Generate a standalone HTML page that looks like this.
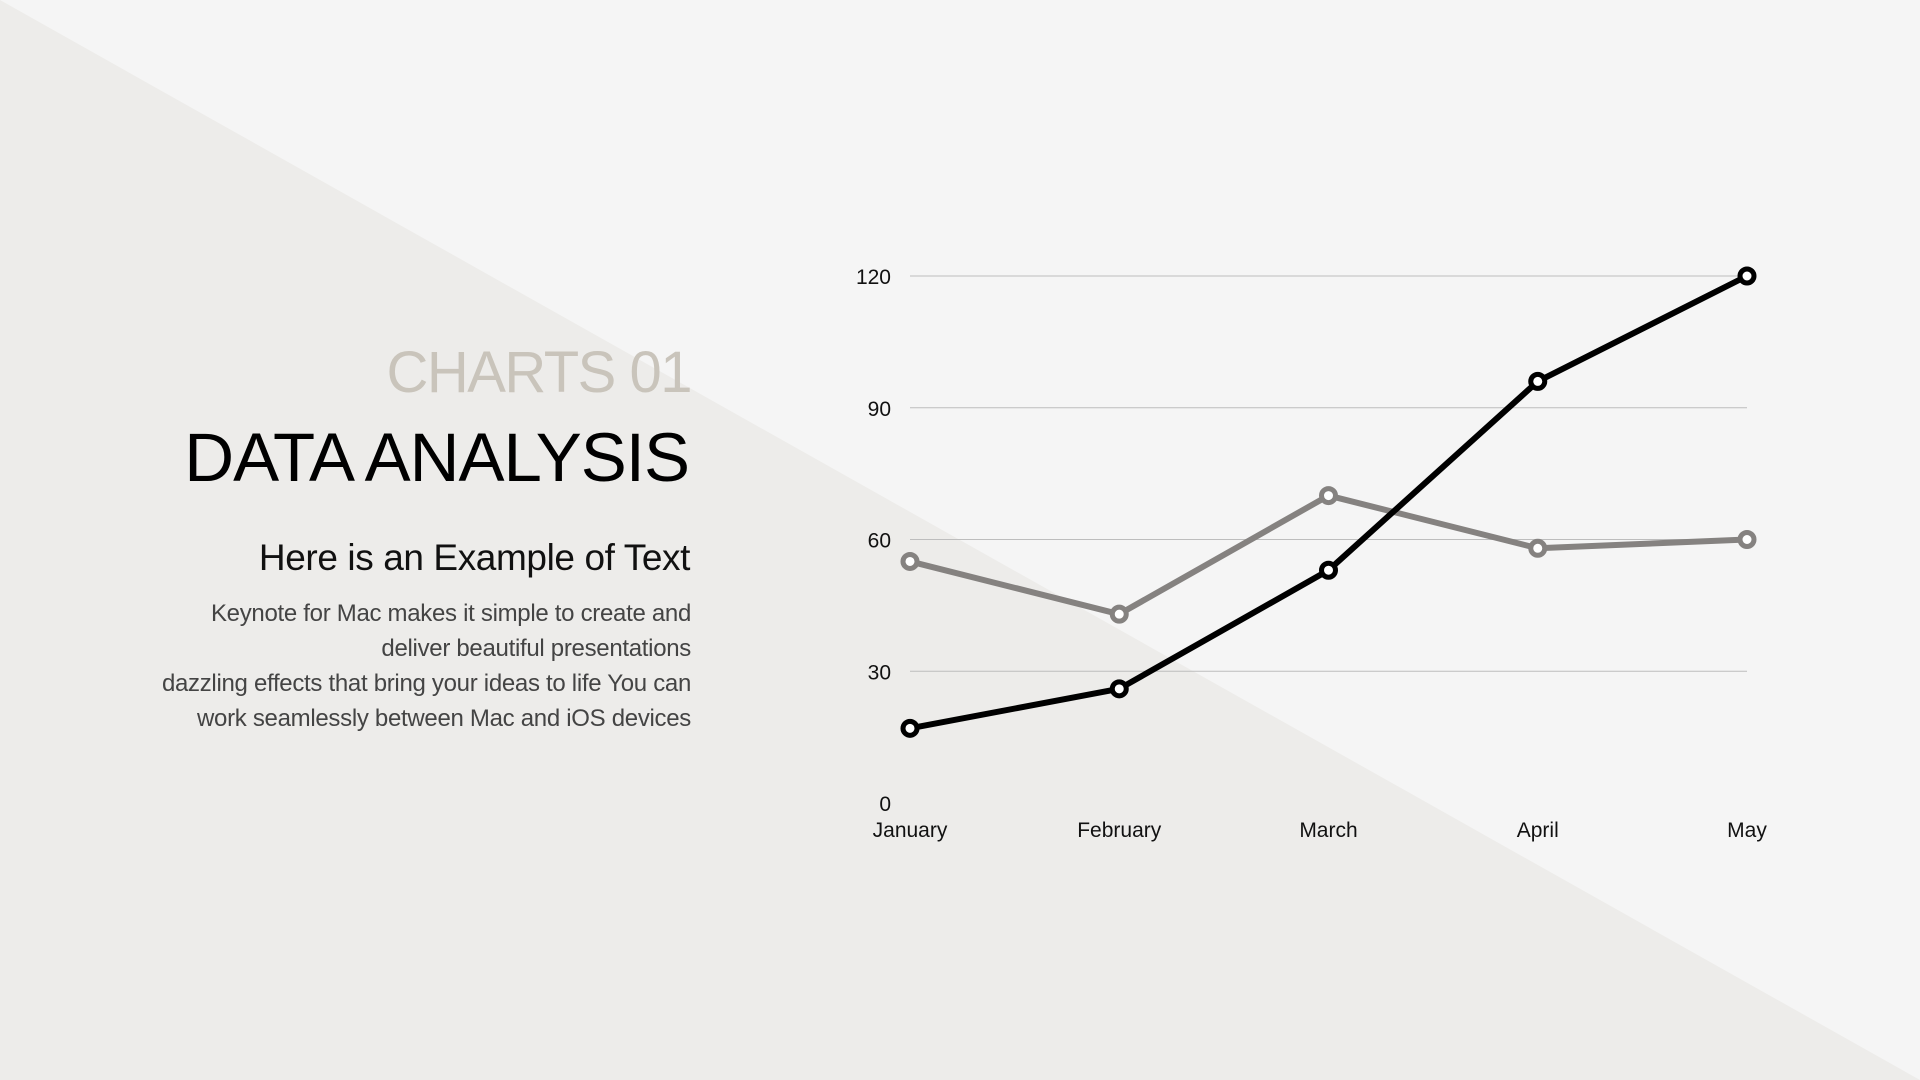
<!DOCTYPE html>
<html><head><meta charset="utf-8">
<style>
html,body{margin:0;padding:0;width:1920px;height:1080px;overflow:hidden;background:#f5f5f5;}
svg{display:block;font-family:"Liberation Sans",sans-serif;}
</style></head>
<body>
<svg id="slide" width="1920" height="1080" viewBox="0 0 1920 1080">
  <rect x="0" y="0" width="1920" height="1080" fill="#f5f5f5"/>
  <polygon points="0,0 1920,1080 0,1080" fill="#edecea"/>
  <g text-anchor="end">
    <text x="691" y="392" font-size="58" fill="#c9c4bb" letter-spacing="-1.5">CHARTS 01</text>
    <text x="689" y="481" font-size="69" fill="#000" letter-spacing="-1">DATA ANALYSIS</text>
    <text x="690" y="570" font-size="37" fill="#111" letter-spacing="-0.4">Here is an Example of Text</text>
    <g font-size="24" fill="#444" letter-spacing="-0.3">
      <text x="691" y="621">Keynote for Mac makes it simple to create and</text>
      <text x="691" y="656">deliver beautiful presentations</text>
      <text x="691" y="691">dazzling effects that bring your ideas to life You can</text>
      <text x="691" y="726">work seamlessly between Mac and iOS devices</text>
    </g>
  </g>
  <g id="chart"></g>
</svg>
<script>
const categories = ["January","February","March","April","May"];
const seriesBlack = [17, 26, 53, 96, 120];
const seriesGray = [55, 43, 70, 58, 60];
const yTicks = [0, 30, 60, 90, 120];

const NS = "http://www.w3.org/2000/svg";
const chart = document.getElementById('chart');
const x0 = 910, x1 = 1747, yBottom = 803, yTop = 276, yMax = 120;
function xScale(i){ return x0 + (x1 - x0) * i / (categories.length - 1); }
function yScale(v){ return yBottom - (yBottom - yTop) * v / yMax; }
function mk(tag, attrs){ const e = document.createElementNS(NS, tag); for (const k in attrs) e.setAttribute(k, attrs[k]); return e; }

const grid = mk('g', {});


chart.appendChild(grid);
yTicks.forEach(t => {
  const y = yScale(t);
  if (t > 0) {
    const ln = mk('line', {x1: x0, x2: x1, y1: y, y2: y, stroke: '#bdbdbd', 'stroke-width': 1});
    
    
    grid.appendChild(ln);
  }
  const tx = mk('text', {x: 891, y: y + 8, 'font-size': 21, fill: '#111', 'text-anchor': 'end'});
  
  
  tx.textContent = String(t);
  grid.appendChild(tx);
});

const xa = mk('g', {});


chart.appendChild(xa);
categories.forEach((c, i) => {
  const tx = mk('text', {x: xScale(i), y: 837, 'font-size': 21, fill: '#111', 'text-anchor': 'middle'});
  
  
  tx.textContent = c;
  xa.appendChild(tx);
});

function drawSeries(vals, color, name){
  const g = mk('g', {});
  
  
  const pts = vals.map((v, i) => xScale(i) + ',' + yScale(v)).join(' ');
  const pl = mk('polyline', {points: pts, fill: 'none', stroke: color, 'stroke-width': 6, 'stroke-linejoin': 'round'});
  
  
  g.appendChild(pl);
  vals.forEach((v, i) => {
    const c = mk('circle', {cx: xScale(i), cy: yScale(v), r: 7, fill: '#fff', stroke: color, 'stroke-width': 5});
    
    
    g.appendChild(c);
  });
  chart.appendChild(g);
}
drawSeries(seriesGray, '#858280', 'series-gray');
drawSeries(seriesBlack, '#000000', 'series-black');
</script>
</body></html>
